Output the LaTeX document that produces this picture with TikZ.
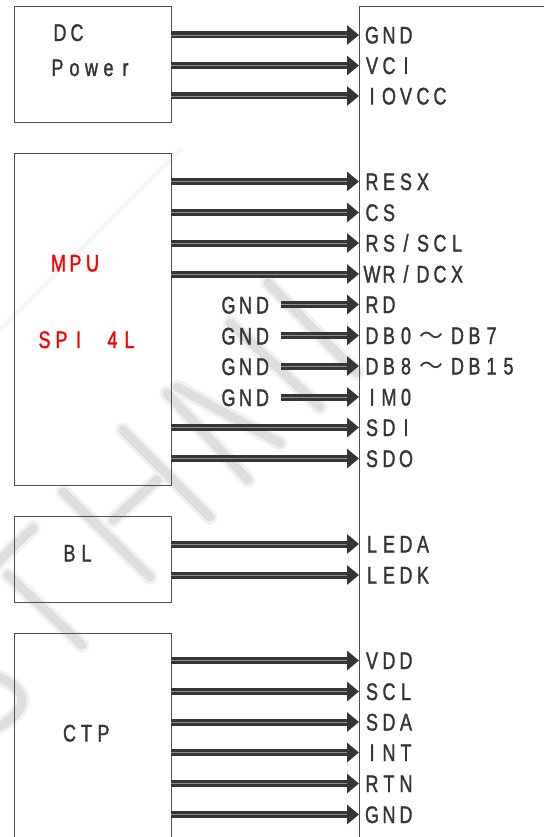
\documentclass[tikz,border=0pt]{standalone}
\usepackage{fontspec}
\setmainfont[FakeStretch=0.75,FakeBold=1.3]{Liberation Sans}
\newfontfamily\wavefont{Noto Sans CJK SC}
\usetikzlibrary{arrows.meta}
\definecolor{ink}{HTML}{353535}
\definecolor{frame}{HTML}{505050}
\definecolor{wmcore}{HTML}{DEDEDE}
\definecolor{wmhalo}{HTML}{F1F1F1}
\makeatletter
\newcommand\cellbox[1]{\makebox[17pt][c]{#1}}
\newcommand\mono[1]{\@tfor\@ch:=#1\do{\cellbox{\@ch}}}
\makeatother
\newcommand\wavecell{\makebox[34.5pt][c]{\wavefont\fontsize{24pt}{24pt}\selectfont ～}}
\tikzset{
  txt/.style={anchor=base west,inner sep=0pt,outer sep=0pt,text=ink,font=\fontsize{24pt}{24pt}\selectfont},
  redtxt/.style={txt,text=red},
  boxline/.style={draw=frame,line width=1pt},
  pinshaft/.style={draw=ink,line width=7pt,-{Triangle[length=12pt,width=19pt,fill=ink]},shorten >=0pt},
  pincore/.style={draw=ink!55!white,line width=0.7pt},
  wmfat/.style={draw=wmhalo,line width=15pt,line cap=round},
  wmthin/.style={draw=wmcore,line width=9pt,line cap=round}
}
% name, y, start x, label
\newcommand\pinrow[4]{%
  \coordinate (from#1) at (#3,#2);
  \coordinate (to#1) at (359,#2);
  \path[pinshaft] (from#1) -- (to#1);
  \path[pincore] (from#1) -- ([xshift=-12pt]to#1);
  \node[txt] (lab#1) at (363.5,#2+8.5) {#4};
}
\begin{document}
\begin{tikzpicture}[x=1pt,y=-1pt]
\useasboundingbox (0,0) rectangle (544,837);
\fill[white] (0,0) rectangle (544,837);
% watermark
\foreach \a/\b/\c/\d in {268/283/357/373,230/323/320/407,167/393/248/480,177/387/280/443,123/430/210/517,157/480/113/520,63/492/150/577,33/528/-5/565,8/575/82/645}{
  \draw[wmfat] (\a,\b) -- (\c,\d);
}
\draw[wmfat] (-2,677) .. controls (30,690) and (30,710) .. (-2,727);
\foreach \a/\b/\c/\d in {268/283/357/373,230/323/320/407,167/393/248/480,177/387/280/443,123/430/210/517,157/480/113/520,63/492/150/577,33/528/-5/565,8/575/82/645}{
  \draw[wmthin] (\a,\b) -- (\c,\d);
}
\draw[wmthin] (-2,677) .. controls (30,690) and (30,710) .. (-2,727);
\draw[wmhalo!60!white,line width=5pt] (182,148) -- (0,330);
% blocks
\node[boxline,minimum width=157pt,minimum height=116pt,inner sep=0pt] (dc) at (92.5,65) {};
\node[boxline,minimum width=157pt,minimum height=331pt,inner sep=0pt] (mpu) at (92.5,319.5) {};
\node[boxline,minimum width=157pt,minimum height=86pt,inner sep=0pt] (bl) at (92.5,559) {};
\draw[boxline] (14,837) -- (14,633) -- (171,633) -- (171,837);
\draw[boxline] (544,7) -- (359,7) -- (359,837);
% block labels
\node[txt] (tdc) at (51.5,41) {\mono{DC}};
\node[txt] (tpower) at (49,76) {\mono{Power}};
\node[redtxt] (tmpu) at (50,271.5) {\mono{MPU}};
\node[redtxt] (tspi) at (36,348) {\mono{SPI{ }4L}};
\node[txt] (tbl) at (61,561.5) {\mono{BL}};
\node[txt] (tctp) at (61,741.5) {\mono{CTP}};
% left GND labels
\node[txt] (g1) at (220,313.5) {\mono{GND}};
\node[txt] (g2) at (220,344.5) {\mono{GND}};
\node[txt] (g3) at (220,375) {\mono{GND}};
\node[txt] (g4) at (220,406) {\mono{GND}};
% pins
\pinrow{a}{35}{171}{\mono{GND}}
\pinrow{b}{65.5}{171}{\mono{VCI}}
\pinrow{c}{96}{171}{\mono{IOVCC}}
\pinrow{d}{181.5}{171}{\mono{RESX}}
\pinrow{e}{212.5}{171}{\mono{CS}}
\pinrow{f}{243}{171}{\mono{RS/SCL}}
\pinrow{g}{274}{171}{\mono{WR/DCX}}
\pinrow{h}{304.5}{281}{\mono{RD}}
\pinrow{i}{335.5}{281}{\mono{DB0}\wavecell\mono{DB7}}
\pinrow{j}{366}{281}{\mono{DB8}\wavecell\mono{DB15}}
\pinrow{k}{397}{281}{\mono{IM0}}
\pinrow{l}{427.5}{171}{\mono{SDI}}
\pinrow{m}{458.5}{171}{\mono{SDO}}
\pinrow{n}{544}{171}{\mono{LEDA}}
\pinrow{o}{575}{171}{\mono{LEDK}}
\pinrow{p}{660.5}{171}{\mono{VDD}}
\pinrow{q}{691.5}{171}{\mono{SCL}}
\pinrow{r}{722}{171}{\mono{SDA}}
\pinrow{s}{752.5}{171}{\mono{INT}}
\pinrow{t}{783.5}{171}{\mono{RTN}}
\pinrow{u}{814.5}{171}{\mono{GND}}
\end{tikzpicture}
\end{document}
